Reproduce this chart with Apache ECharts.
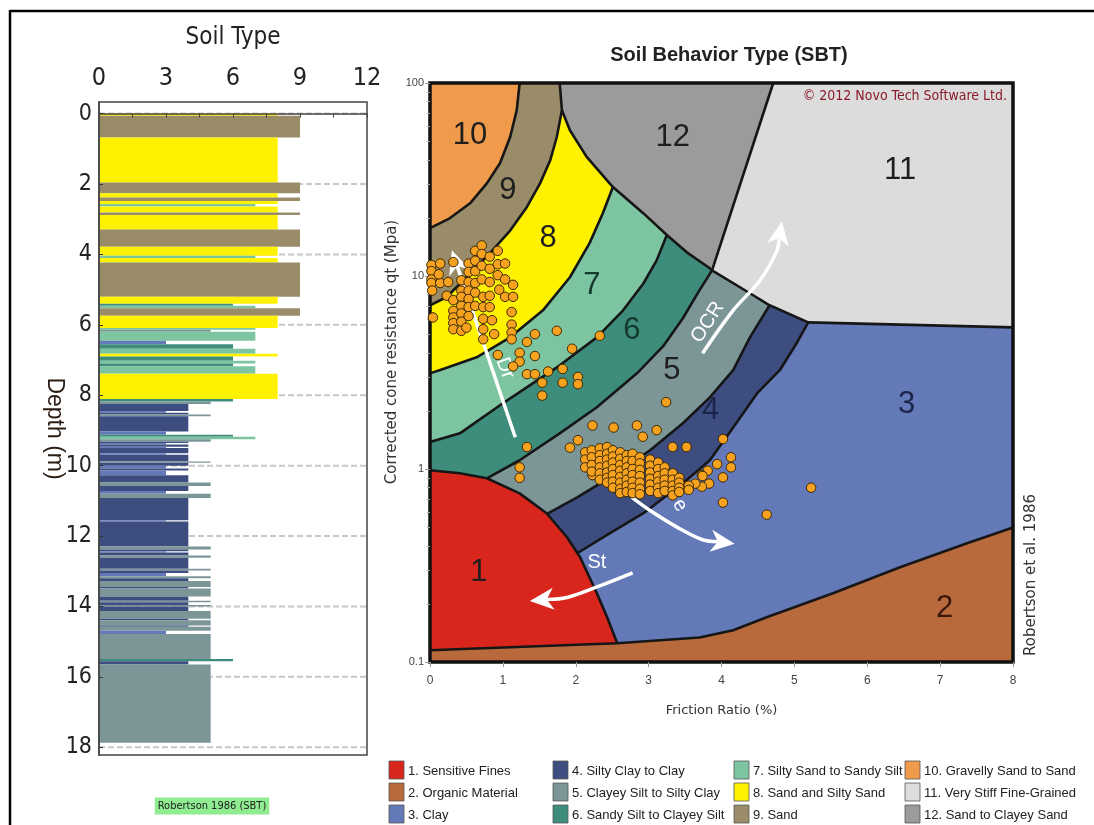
<!DOCTYPE html>
<html>
<head>
<meta charset="utf-8">
<script src="https://cdn.jsdelivr.net/npm/echarts@6/dist/echarts.min.js"></script>
<style>
  html, body { margin: 0; padding: 0; background: #ffffff; }
  #chart { width: 1094px; height: 825px; }
</style>
</head>
<body>
<div id="chart"></div>
<script>
// ---------- Soil behaviour type classes (Robertson et al. 1986) ----------
const soilColors = ['#d8261d', '#b96a3d', '#6479b8', '#3e4d80', '#7c9698', '#3e8d7c',
                    '#7dc5a0', '#fff200', '#9a8c68', '#f09a4b', '#dcdcdc', '#9b9b9b'];
const soilTypeNames = ['1. Sensitive Fines', '2. Organic Material', '3. Clay',
  '4. Silty Clay to Clay', '5. Clayey Silt to Silty Clay', '6. Sandy Silt to Clayey Silt',
  '7. Silty Sand to Sandy Silt', '8. Sand and Silty Sand', '9. Sand',
  '10. Gravelly Sand to Sand', '11. Very Stiff Fine-Grained', '12. Sand to Clayey Sand'];

// ---------- Soil type log: [top depth (m), base depth (m), SBT zone] ----------
const soilTypeTicks = [0, 3, 6, 9, 12];
const soilTypeMinorTicks = [0, 1.5, 3, 4.5, 6, 7.5, 9, 10.5, 12];
const depthTicks = [0, 2, 4, 6, 8, 10, 12, 14, 16, 18];
const depthLayers = [
  [0.00, 0.06, 8], [0.06, 0.68, 9], [0.68, 1.96, 8], [1.96, 2.26, 9], [2.26, 2.38, 8],
  [2.38, 2.48, 9], [2.48, 2.57, 8], [2.57, 2.64, 7], [2.64, 2.81, 8], [2.81, 2.88, 9],
  [2.88, 3.29, 8], [3.29, 3.78, 9], [3.78, 4.04, 8], [4.04, 4.10, 7], [4.10, 4.23, 8],
  [4.23, 5.20, 9], [5.20, 5.40, 8], [5.40, 5.46, 6], [5.46, 5.53, 7], [5.53, 5.74, 9],
  [5.74, 6.09, 8], [6.09, 6.14, 7], [6.14, 6.20, 5], [6.20, 6.45, 7], [6.45, 6.55, 3],
  [6.55, 6.68, 6], [6.68, 6.82, 7], [6.82, 6.90, 8], [6.90, 7.02, 6], [7.02, 7.10, 7],
  [7.10, 7.18, 6], [7.18, 7.39, 7], [7.39, 8.11, 8], [8.11, 8.18, 6], [8.18, 8.25, 5],
  [8.25, 8.45, 4], [8.45, 8.50, 3], [8.50, 8.55, 4], [8.55, 8.60, 5], [8.60, 9.03, 4],
  [9.03, 9.12, 3], [9.12, 9.18, 6], [9.18, 9.25, 7], [9.25, 9.32, 5], [9.32, 9.36, 4],
  [9.36, 9.40, 3], [9.40, 9.46, 4], [9.46, 9.50, 3], [9.50, 9.65, 4], [9.65, 9.69, 3],
  [9.69, 9.88, 4], [9.88, 9.92, 5], [9.92, 10.00, 4], [10.00, 10.08, 3], [10.08, 10.14, 4],
  [10.14, 10.27, 3], [10.27, 10.48, 4], [10.48, 10.58, 5], [10.58, 10.72, 4], [10.72, 10.80, 3],
  [10.80, 10.92, 5], [10.92, 11.55, 4], [11.55, 11.59, 3], [11.59, 12.30, 4], [12.30, 12.38, 5],
  [12.38, 12.43, 4], [12.43, 12.47, 3], [12.47, 12.55, 4], [12.55, 12.62, 5], [12.62, 12.93, 4],
  [12.93, 12.98, 5], [12.98, 13.05, 4], [13.05, 13.14, 3], [13.14, 13.20, 5], [13.20, 13.28, 4],
  [13.28, 13.45, 5], [13.45, 13.49, 4], [13.49, 13.72, 5], [13.72, 13.84, 4], [13.84, 13.88, 5],
  [13.88, 13.96, 4], [13.96, 14.00, 5], [14.00, 14.13, 4], [14.13, 14.35, 5], [14.35, 14.39, 4],
  [14.39, 14.54, 5], [14.54, 14.58, 4], [14.58, 14.69, 5], [14.69, 14.78, 3], [14.78, 15.49, 5],
  [15.49, 15.56, 6], [15.56, 15.65, 4], [15.65, 17.87, 5]
];

// ---------- SBT chart zone boundaries: [friction ratio %, qt MPa] ----------
const RF_MIN = 0, RF_MAX = 8, QT_MIN = 0.1, QT_MAX = 100;
const bnd10_9 = [[0, 17.7], [0.27, 19.9], [0.55, 23.8], [0.78, 30.2], [0.96, 38.4], [1.10, 52.5], [1.19, 72.2], [1.23, 100]];
const bnd9_8 = [[0, 7.05], [0.23, 7.78], [0.50, 9.85], [0.82, 13.1], [1.10, 17.2], [1.33, 22.8], [1.51, 30.2], [1.65, 39.8], [1.74, 52.5], [1.81, 72.2], [1.78, 100]];
const bnd8_7 = [[0, 3.13], [0.18, 3.30], [0.64, 3.79], [1.10, 4.81], [1.55, 6.64], [1.92, 9.85], [2.19, 14.8], [2.37, 21.1], [2.51, 28.9]];
const bnd7_6 = [[0, 1.38], [0.41, 1.53], [1.00, 2.19], [1.41, 2.78], [1.74, 3.36], [2.29, 4.81], [2.65, 6.64], [2.93, 9.17], [3.11, 12.05], [3.25, 16.3]];
const bnd6_5 = [[0.78, 0.895], [1.23, 1.11], [1.78, 1.53], [2.29, 2.09], [2.84, 3.13], [3.20, 4.33], [3.47, 6.04], [3.68, 8.23], [3.87, 10.7]];
const bnd5_4 = [[1.60, 0.583], [2.02, 0.713], [2.47, 0.906], [3.02, 1.25], [3.47, 1.725], [3.84, 2.35], [4.16, 3.25], [4.39, 4.81], [4.66, 7.05]];
const bnd4_3 = [[2.02, 0.366], [2.47, 0.465], [2.93, 0.59], [3.47, 0.843], [3.84, 1.11], [4.16, 1.64], [4.49, 2.47], [4.80, 3.25], [5.03, 4.48], [5.19, 5.75]];
const bnd12 = [[1.81, 72.2], [1.92, 56.9], [2.15, 41.4], [2.51, 28.9], [2.93, 21.1], [3.25, 16.3], [3.52, 13.3], [3.82, 11.1], [3.87, 10.7]];
const bnd12_11 = [[3.87, 10.7], [4.71, 100]];
const bnd11 = [[3.87, 10.7], [4.39, 8.14], [4.66, 7.05], [5.19, 5.75], [8, 5.42]];
const bnd1 = [[0, 0.985], [0.41, 0.95], [0.78, 0.895], [1.23, 0.748], [1.60, 0.59], [1.88, 0.443], [2.06, 0.349], [2.29, 0.227], [2.43, 0.1705], [2.57, 0.125]];
const bnd2 = [[0, 0.115], [2.57, 0.125], [3.70, 0.134], [4.16, 0.146], [4.62, 0.1705], [5.53, 0.227], [6.45, 0.31], [7.37, 0.412], [8, 0.498]];

// zone number labels: [Rf, qt, zone]
const zoneLabels = [[0.67, 0.292, 1], [7.06, 0.19, 2], [6.54, 2.15, 3], [3.85, 2.01, 4], [3.32, 3.24, 5],
  [2.77, 5.24, 6], [2.22, 8.95, 7], [1.62, 15.7, 8], [1.07, 27.8, 9], [0.55, 53.6, 10],
  [6.45, 35.3, 11], [3.33, 52.4, 12]];

// trend arrows (Dr, OCR, e, St) drawn as paths in [Rf, qt]
const arrowPaths = [
  [[1.17, 1.46], [0.30, 13.6]],
  [[3.74, 3.98], [4.16, 6.64], [4.53, 9.5], [4.76, 13.5], [4.83, 19.2]],
  [[2.77, 0.713], [3.02, 0.61], [3.39, 0.50], [3.74, 0.43], [4.18, 0.41]],
  [[2.78, 0.29], [2.29, 0.245], [1.88, 0.216], [1.37, 0.207]]
];
const arrowLabels = [['Dr', 1.03, 3.33, -70], ['OCR', 3.81, 5.75, 57], ['e', 3.43, 0.648, -58], ['St', 2.29, 0.329, 0]];

// ---------- CPT readings plotted on the SBT chart: [Rf %, qt MPa] ----------
const sbtPoints = [
  // sandy upper layers
  [0.02, 11.4], [0.02, 10.6], [0.02, 9.6], [0.02, 9.2], [0.03, 8.4], [0.04, 6.1], [0.14, 11.6], [0.14, 9.2],
  [0.12, 10.2], [0.23, 7.9], [0.32, 11.8], [0.32, 7.5], [0.32, 6.6], [0.32, 6.1], [0.32, 5.7], [0.32, 5.3],
  [0.43, 9.5], [0.43, 8.4], [0.43, 7.8], [0.43, 7.0], [0.43, 6.4], [0.43, 5.8], [0.43, 5.2], [0.53, 11.6],
  [0.53, 10.5], [0.53, 9.3], [0.53, 8.4], [0.53, 7.6], [0.53, 6.9], [0.53, 6.2], [0.62, 13.5], [0.62, 12.0],
  [0.62, 10.6], [0.62, 9.2], [0.62, 8.2], [0.62, 7.0], [0.71, 14.4], [0.71, 13.0], [0.71, 11.3], [0.71, 9.6],
  [0.73, 7.8], [0.73, 6.9], [0.73, 6.0], [0.73, 5.3], [0.73, 4.7], [0.82, 12.6], [0.82, 10.9], [0.82, 9.3],
  [0.82, 7.9], [0.82, 6.9], [0.85, 5.9], [0.88, 5.0], [0.93, 13.5], [0.93, 11.5], [0.93, 10.1], [0.95, 8.5],
  [1.03, 11.6], [1.03, 9.6], [1.03, 7.8], [1.14, 9.0], [1.14, 7.8], [1.12, 6.5], [1.12, 5.6], [1.12, 5.1],
  [1.12, 4.7], [0.25, 9.3], [0.50, 5.4],
  // silty sands
  [0.93, 3.9], [1.23, 4.0], [1.33, 4.55], [1.44, 5.0], [1.74, 5.2], [1.95, 4.2], [1.44, 3.85], [1.23, 3.6],
  [1.14, 3.4], [1.33, 3.1], [1.44, 3.1], [1.54, 2.8], [1.62, 3.2], [1.82, 3.3], [1.82, 2.8], [2.03, 3.0],
  [2.03, 2.75], [1.54, 2.4], [2.33, 4.9],
  // scattered silts and clays
  [1.33, 1.30], [1.23, 1.02], [1.23, 0.90], [2.23, 1.68], [2.52, 1.64], [2.84, 1.68], [3.24, 2.22], [3.11, 1.59],
  [2.92, 1.47], [3.33, 1.30], [3.52, 1.30], [2.03, 1.41], [1.92, 1.29], [2.23, 0.93], [4.02, 1.43], [4.13, 1.15],
  [4.13, 1.02], [4.02, 0.905], [3.94, 1.06], [3.81, 0.98], [3.73, 0.93], [3.83, 0.84], [3.73, 0.81], [4.02, 0.67],
  [4.62, 0.58], [5.23, 0.80], [3.52, 0.81], [3.64, 0.84], [3.74, 0.92],
  // clayey silt cluster
  [2.13, 1.22], [2.13, 1.12], [2.13, 1.02], [2.22, 1.25], [2.22, 1.15], [2.22, 1.05], [2.22, 0.97],
  [2.33, 1.28], [2.33, 1.18], [2.33, 1.10], [2.33, 1.02], [2.33, 0.95], [2.33, 0.88],
  [2.43, 1.30], [2.43, 1.20], [2.43, 1.12], [2.43, 1.04], [2.43, 0.96], [2.43, 0.90], [2.43, 0.85],
  [2.51, 1.25], [2.51, 1.16], [2.51, 1.08], [2.51, 1.00], [2.51, 0.93], [2.51, 0.86], [2.51, 0.80],
  [2.61, 1.22], [2.61, 1.13], [2.61, 1.05], [2.61, 0.98], [2.61, 0.91], [2.61, 0.85], [2.61, 0.79], [2.61, 0.75],
  [2.70, 1.18], [2.70, 1.10], [2.70, 1.02], [2.70, 0.95], [2.70, 0.88], [2.70, 0.82], [2.70, 0.76],
  [2.78, 1.20], [2.78, 1.10], [2.78, 1.00], [2.78, 0.93], [2.78, 0.86], [2.78, 0.80], [2.78, 0.75],
  [2.88, 1.15], [2.88, 1.07], [2.88, 0.99], [2.88, 0.92], [2.88, 0.85], [2.88, 0.79], [2.88, 0.74],
  [3.02, 1.12], [3.02, 1.04], [3.02, 0.96], [3.02, 0.89], [3.02, 0.83], [3.02, 0.77],
  [3.13, 1.08], [3.13, 1.00], [3.13, 0.92], [3.13, 0.86], [3.13, 0.80], [3.13, 0.75],
  [3.22, 1.02], [3.22, 0.95], [3.22, 0.88], [3.22, 0.82], [3.22, 0.77],
  [3.33, 0.95], [3.33, 0.88], [3.33, 0.82], [3.33, 0.77], [3.33, 0.73],
  [3.42, 0.90], [3.42, 0.85], [3.42, 0.80], [3.42, 0.76], [3.55, 0.82], [3.55, 0.78]
];

// ---------- zone fills, painted back to front ----------
const last = a => a[a.length - 1];
const zoneFills = [
  [3, [[RF_MIN, QT_MIN], [RF_MAX, QT_MIN], [RF_MAX, QT_MAX], [RF_MIN, QT_MAX]]],
  [4, [[RF_MIN, QT_MIN], [bnd4_3[0][0], QT_MIN], ...bnd4_3, [last(bnd4_3)[0], QT_MAX], [RF_MIN, QT_MAX]]],
  [5, [[RF_MIN, QT_MIN], [bnd5_4[0][0], QT_MIN], ...bnd5_4, [last(bnd5_4)[0], QT_MAX], [RF_MIN, QT_MAX]]],
  [6, [[RF_MIN, QT_MIN], [bnd6_5[0][0], QT_MIN], ...bnd6_5, [last(bnd6_5)[0], QT_MAX], [RF_MIN, QT_MAX]]],
  [7, [...bnd7_6, [last(bnd7_6)[0], QT_MAX], [RF_MIN, QT_MAX]]],
  [8, [...bnd8_7, [last(bnd8_7)[0], QT_MAX], [RF_MIN, QT_MAX]]],
  [9, [...bnd9_8, [RF_MIN, QT_MAX]]],
  [10, [...bnd10_9, [RF_MIN, QT_MAX]]],
  [12, [last(bnd9_8), ...bnd12, last(bnd12_11)]],
  [11, [...bnd11, [RF_MAX, QT_MAX], last(bnd12_11)]],
  [1, [...bnd1, [last(bnd1)[0], QT_MIN], [RF_MIN, QT_MIN]]],
  [2, [[RF_MIN, QT_MIN], ...bnd2, [RF_MAX, QT_MIN]]]
];
const boundaryLines = [bnd10_9, bnd9_8, bnd12, bnd12_11, bnd8_7, bnd7_6, bnd6_5, bnd11, bnd5_4, bnd4_3, bnd1, bnd2];

const NARROW = "'Liberation Sans Narrow','Arial Narrow','DejaVu Sans Condensed',sans-serif";
const SANS = "'Liberation Sans',Arial,sans-serif";
const WIDE = "'DejaVu Sans',Verdana,sans-serif";

const chart = echarts.init(document.getElementById('chart'), null, { renderer: 'canvas' });

// legend blocks along the bottom, three rows per column
const legendCols = [389, 553, 734, 905];
const legendGraphics = [];
soilTypeNames.forEach((name, i) => {
  const col = Math.floor(i / 3), row = i % 3;
  const x = legendCols[col], y = 761 + row * 22;
  legendGraphics.push({
    type: 'rect', shape: { x: x, y: y, width: 15, height: 18 },
    style: { fill: soilColors[i], stroke: '#555', lineWidth: 0.8 }
  });
  legendGraphics.push({
    type: 'text', x: x + 19, y: y + 10,
    style: { text: name, font: '13px ' + SANS, fill: '#222', verticalAlign: 'middle' }
  });
});

const labelColor = z => (z === 3 || z === 4) ? '#1b2448' : (z === 2 ? '#3a170b' : (z === 6 || z === 7) ? '#143a2d' : '#1e1e1e');

const option = {
  animation: false,
  backgroundColor: '#ffffff',
  grid: [
    { left: 99, top: 102, width: 268, height: 653, show: false, outerBoundsMode: 'none' },
    { left: 430, top: 83, width: 583, height: 579, show: false, outerBoundsMode: 'none' }
  ],
  xAxis: [
    {
      gridIndex: 0, type: 'value', position: 'top', min: 0, max: 12, z: 5,
      name: 'Soil Type', nameLocation: 'middle', nameGap: 52, nameMoveOverlap: false,
      nameTextStyle: { fontFamily: NARROW, fontSize: 24, color: '#222' },
      axisLine: { show: true, lineStyle: { color: '#444', width: 1.5 } },
      axisTick: { show: true, inside: true, length: 4, customValues: soilTypeMinorTicks, lineStyle: { color: '#444' } },
      axisLabel: { customValues: soilTypeTicks, fontFamily: NARROW, fontSize: 25, color: '#222', margin: 11 },
      splitLine: { show: false }
    },
    {
      gridIndex: 1, type: 'value', min: RF_MIN, max: RF_MAX, interval: 1, z: 5,
      name: 'Friction Ratio (%)', nameLocation: 'middle', nameGap: 42, nameMoveOverlap: false,
      nameTextStyle: { fontFamily: WIDE, fontSize: 13, color: '#333' },
      axisLine: { show: false },
      axisTick: { show: true, length: 5, lineStyle: { color: '#999' } },
      axisLabel: { fontFamily: SANS, fontSize: 12, color: '#444', margin: 13 },
      splitLine: { show: false }
    }
  ],
  yAxis: [
    {
      gridIndex: 0, type: 'value', inverse: true, min: -0.33, max: 18.22, z: 5,
      name: 'Depth (m)', nameLocation: 'middle', nameRotate: -90, nameGap: 33, nameMoveOverlap: false,
      nameTextStyle: { fontFamily: SANS, fontSize: 23, color: '#2a1c12' },
      axisLine: { show: true, lineStyle: { color: '#444', width: 1.5 } },
      axisTick: { show: true, inside: true, length: 4, customValues: depthTicks, lineStyle: { color: '#333' } },
      axisLabel: { customValues: depthTicks, fontFamily: NARROW, fontSize: 23, color: '#222', margin: 7 },
      splitLine: { show: false }
    },
    {
      gridIndex: 1, type: 'log', logBase: 10, min: QT_MIN, max: QT_MAX, z: 5, position: 'left',
      axisLine: { show: false },
      axisTick: { show: true, length: 5, lineStyle: { color: '#999' } },
      axisLabel: { fontFamily: SANS, fontSize: 11, color: '#444', margin: 6 },
      splitLine: { show: false }
    },
    {
      gridIndex: 1, type: 'log', logBase: 10, min: QT_MIN, max: QT_MAX, z: 5, position: 'left', offset: 0,
      axisLine: { show: false },
      axisTick: { show: true, length: 3,
        customValues: [0.2, 0.3, 0.4, 0.5, 0.6, 0.7, 0.8, 0.9, 2, 3, 4, 5, 6, 7, 8, 9, 20, 30, 40, 50, 60, 70, 80, 90],
        lineStyle: { color: '#aaa' } },
      axisLabel: { show: false },
      splitLine: { show: false }
    }
  ],
  series: [
    // dashed depth guides behind the log
    {
      type: 'custom', xAxisIndex: 0, yAxisIndex: 0, z: 1, silent: true,
      data: depthTicks.map(d => [0, d]),
      renderItem: (params, api) => {
        const a = api.coord([0, api.value(1)]), b = api.coord([12, api.value(1)]);
        return { type: 'line', shape: { x1: a[0], y1: a[1], x2: b[0], y2: b[1] },
          style: { stroke: '#c8c8c8', lineWidth: 2, lineDash: [6, 3] } };
      }
    },
    // soil type bars by depth
    {
      type: 'custom', xAxisIndex: 0, yAxisIndex: 0, z: 2, silent: true,
      data: depthLayers.map(l => [l[2], l[0], l[1]]),
      renderItem: (params, api) => {
        const t = api.value(0), top = api.value(1), base = api.value(2);
        const p0 = api.coord([0, top]), p1 = api.coord([t, base]);
        return { type: 'rect', shape: { x: p0[0], y: p0[1], width: p1[0] - p0[0], height: p1[1] - p0[1] },
          style: { fill: soilColors[t - 1] } };
      }
    },
    // log panel frame
    {
      type: 'custom', xAxisIndex: 0, yAxisIndex: 0, z: 6, silent: true,
      data: [[0, 0]],
      renderItem: (params, api) => {
        const a = api.coord([0, -0.33]), b = api.coord([12, 18.22]);
        return { type: 'rect', shape: { x: a[0], y: a[1], width: b[0] - a[0], height: b[1] - a[1] },
          style: { fill: 'none', stroke: '#444', lineWidth: 1.5 } };
      }
    },
    // SBT zone fills
    {
      type: 'custom', xAxisIndex: 1, yAxisIndex: 1, z: 1, silent: true, clip: false,
      data: zoneFills.map(() => [1, 1]),
      renderItem: (params, api) => {
        const z = zoneFills[params.dataIndex];
        return { type: 'polygon', shape: { points: z[1].map(p => api.coord(p)) },
          style: { fill: soilColors[z[0] - 1], stroke: soilColors[z[0] - 1], lineWidth: 0.5 } };
      }
    },
    // SBT zone boundaries
    {
      type: 'custom', xAxisIndex: 1, yAxisIndex: 1, z: 2, silent: true, clip: false,
      data: boundaryLines.map(() => [1, 1]),
      renderItem: (params, api) => ({
        type: 'polyline', shape: { points: boundaryLines[params.dataIndex].map(p => api.coord(p)) },
        style: { fill: 'none', stroke: '#161616', lineWidth: 2.6, lineJoin: 'round' }
      })
    },
    // chart frame
    {
      type: 'custom', xAxisIndex: 1, yAxisIndex: 1, z: 3, silent: true, clip: false,
      data: [[1, 1]],
      renderItem: (params, api) => {
        const a = api.coord([RF_MIN, QT_MAX]), b = api.coord([RF_MAX, QT_MIN]);
        return { type: 'rect', shape: { x: a[0], y: a[1], width: b[0] - a[0], height: b[1] - a[1] },
          style: { fill: 'none', stroke: '#111', lineWidth: 3.5 } };
      }
    },
    // zone numbers
    {
      type: 'custom', xAxisIndex: 1, yAxisIndex: 1, z: 3, silent: true, clip: false,
      data: zoneLabels.map(l => [l[0], l[1], l[2]]),
      renderItem: (params, api) => {
        const p = api.coord([api.value(0), api.value(1)]);
        const z = api.value(2);
        return { type: 'text', x: p[0], y: p[1],
          style: { text: String(z), font: '31px ' + SANS, fill: labelColor(z), align: 'center', verticalAlign: 'middle' } };
      }
    },
    // trend arrows
    {
      type: 'custom', xAxisIndex: 1, yAxisIndex: 1, z: 4, silent: true, clip: false,
      data: arrowPaths.map(() => [1, 1]),
      renderItem: (params, api) => {
        const pts = arrowPaths[params.dataIndex].map(p => api.coord(p));
        const tip = pts[pts.length - 1], prev = pts[pts.length - 2];
        let dx = tip[0] - prev[0], dy = tip[1] - prev[1];
        const len = Math.hypot(dx, dy); dx /= len; dy /= len;
        const hl = 24, hw = 11;
        const base = [tip[0] - dx * hl, tip[1] - dy * hl];
        const notch = [tip[0] - dx * (hl - 7), tip[1] - dy * (hl - 7)];
        const left = [base[0] - dy * hw, base[1] + dx * hw];
        const right = [base[0] + dy * hw, base[1] - dx * hw];
        const shaft = pts.slice(0, -1).concat([notch]);
        return { type: 'group', children: [
          { type: 'polyline', shape: { points: shaft, smooth: 0.35 },
            style: { fill: 'none', stroke: '#ffffff', lineWidth: 3.5 } },
          { type: 'polygon', shape: { points: [tip, left, notch, right] }, style: { fill: '#ffffff' } }
        ] };
      }
    },
    // arrow captions
    {
      type: 'custom', xAxisIndex: 1, yAxisIndex: 1, z: 4, silent: true, clip: false,
      data: arrowLabels.map(l => [l[1], l[2]]),
      renderItem: (params, api) => {
        const l = arrowLabels[params.dataIndex];
        const p = api.coord([l[1], l[2]]);
        return { type: 'text', x: p[0], y: p[1], rotation: l[3] * Math.PI / 180,
          style: { text: l[0], font: '20px ' + SANS, fill: '#ffffff', align: 'center', verticalAlign: 'middle' } };
      }
    },
    // CPT readings
    {
      type: 'scatter', xAxisIndex: 1, yAxisIndex: 1, z: 5, silent: true,
      symbol: 'circle', symbolSize: 9.5,
      itemStyle: { color: '#f6a21e', borderColor: '#3a2806', borderWidth: 1, opacity: 1 },
      data: sbtPoints
    }
  ],
  graphic: [
    { type: 'line', shape: { x1: 10, y1: 11, x2: 1094, y2: 11 }, style: { stroke: '#000', lineWidth: 2.5 } },
    { type: 'line', shape: { x1: 10, y1: 10, x2: 10, y2: 825 }, style: { stroke: '#000', lineWidth: 2.5 } },
    { type: 'text', x: 729, y: 55, style: { text: 'Soil Behavior Type (SBT)', font: 'bold 20px ' + SANS, fill: '#222', align: 'center', verticalAlign: 'middle' } },
    { type: 'text', x: 392, y: 352, rotation: Math.PI / 2, style: { text: 'Corrected cone resistance qt (Mpa)', font: '15px ' + WIDE, fill: '#333', align: 'center', verticalAlign: 'middle' } },
    { type: 'text', x: 1007, y: 96, z: 10, style: { text: '\u00A9 2012 Novo Tech Software Ltd.', font: '14px ' + NARROW, fill: '#8a1c2c', align: 'right', verticalAlign: 'middle' } },
    { type: 'text', x: 1031, y: 575, rotation: Math.PI / 2, style: { text: 'Robertson et al. 1986', font: '15px ' + WIDE, fill: '#333', align: 'center', verticalAlign: 'middle' } },
    { type: 'text', x: 212, y: 806, style: { text: 'Robertson 1986 (SBT)', font: '11px ' + NARROW, fill: '#222', align: 'center', verticalAlign: 'middle', backgroundColor: '#90ec90', padding: [3, 3] } },
    ...legendGraphics
  ]
};

chart.setOption(option);
</script>
</body>
</html>
